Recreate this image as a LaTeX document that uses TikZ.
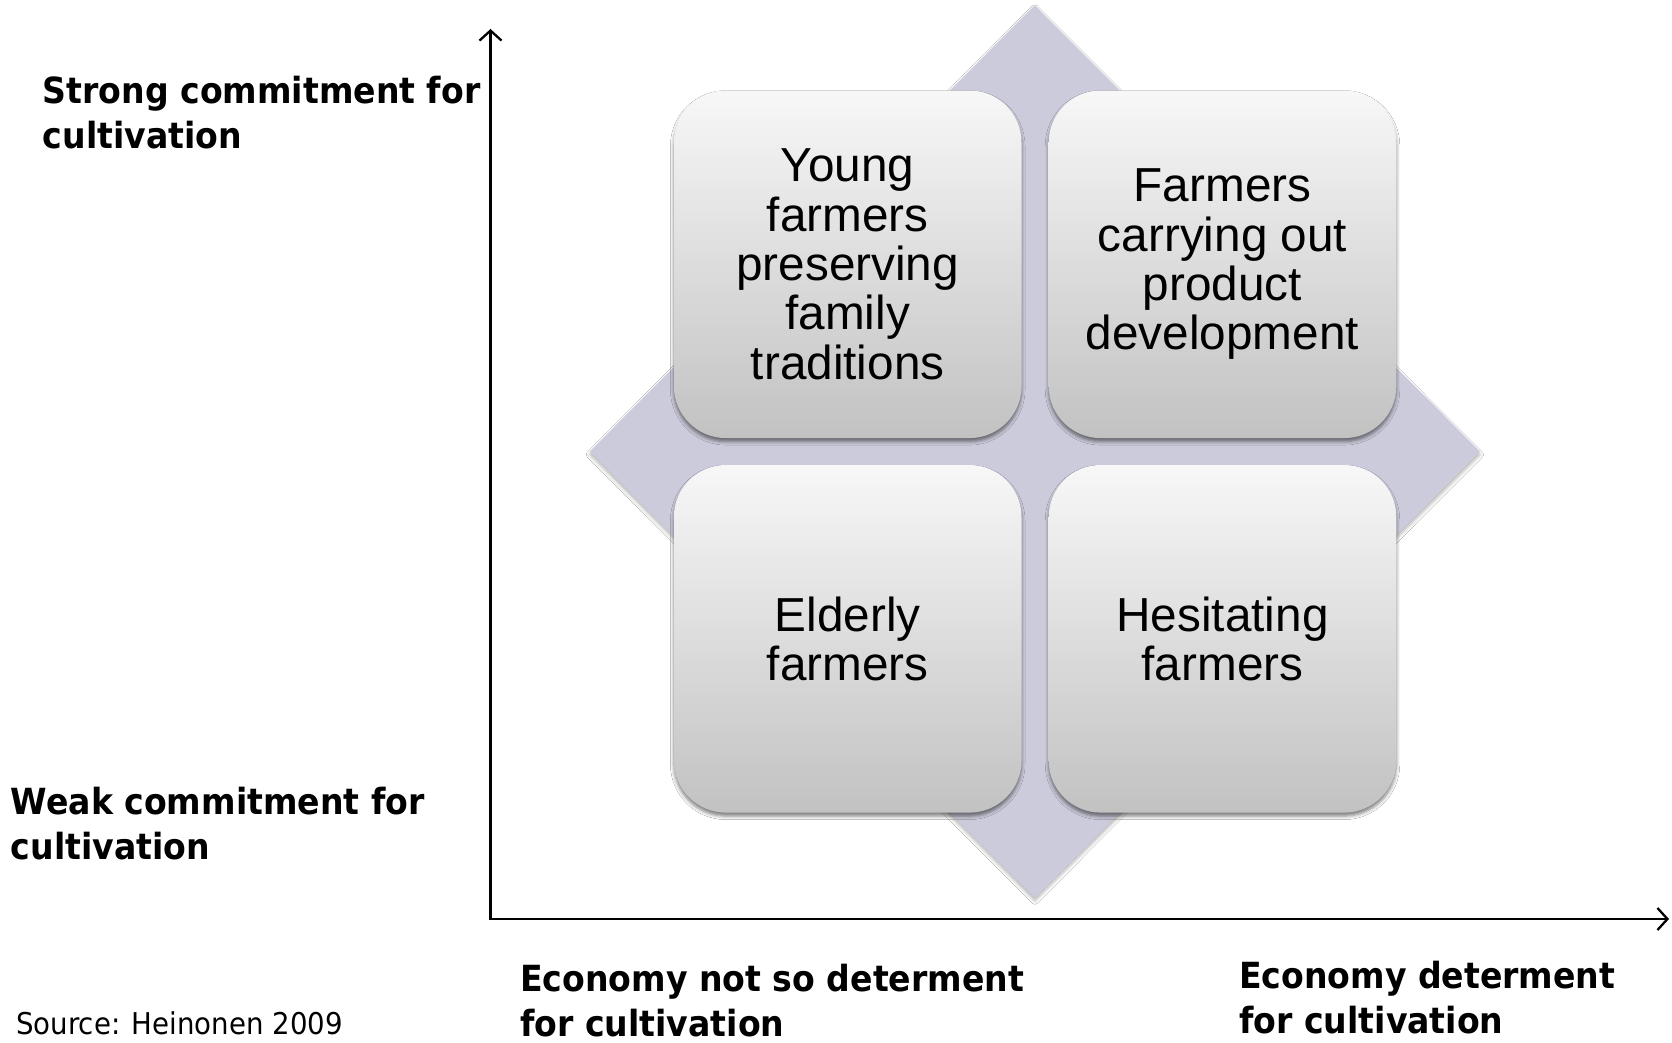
\documentclass[tikz,border=0pt]{standalone}
\usepackage{fontspec}
\setmainfont{Liberation Sans}
\newfontfamily\tahomab[FakeStretch=0.92]{DejaVu Sans}
\usetikzlibrary{arrows.meta,shadows.blur}
\definecolor{diam}{RGB}{203,203,219}
\begin{document}
\begin{tikzpicture}[x=1pt,y=-1pt,
  quad/.style={rounded corners=52pt, minimum width=347.6pt, minimum height=347.6pt,
    inner sep=0pt, top color=white!97!black, bottom color=black!24, draw=none,
    align=center, font=\fontsize{47.7}{49.4}\selectfont,
    blur shadow={shadow xshift=0pt, shadow yshift=-3.5pt, shadow blur radius=3.5pt, shadow opacity=50}},
  axislbl/.style={anchor=base west, inner sep=0pt, align=left,
    font=\tahomab\bfseries\fontsize{36}{45}\selectfont},
  axisline/.style={line width=2.3pt, {Straight Barb[length=10pt,width=22pt,line width=2.3pt]}-{Straight Barb[length=10pt,width=22pt,line width=2.3pt]}}
]
\useasboundingbox (0,0) rectangle (1672,1042);
\fill[white] (0,0) rectangle (1672,1042);

% diamond
\fill[diam, blur shadow={shadow xshift=0pt, shadow yshift=-3pt, shadow blur radius=3.5pt, shadow opacity=30}]
  (1034.8,5.3) -- (1480,451.6) -- (1034.8,897.8) -- (589.7,451.6) -- cycle;

% quadrants
\node[quad] (yf) at (847.7,264.3) {Young\\farmers\\preserving\\family\\traditions};
\node[quad] (fp) at (1222.5,264.3) {Farmers\\carrying out\\product\\development};
\node[quad] (ef) at (847.7,638.8) {Elderly\\farmers};
\node[quad] (hf) at (1222.5,638.8) {Hesitating\\farmers};

% axes
\coordinate (ytop) at (490.5,29);
\coordinate (origin) at (490.5,919);
\coordinate (xend) at (1669,919);
\draw[axisline] (ytop) -- (origin) -- (xend);

% labels (anchor = baseline of last line)
\node[axislbl] (strong) at (42.7,148) {Strong commitment for\\cultivation};
\node[axislbl] (weak) at (10.7,859.4) {Weak commitment for\\cultivation};
\node[axislbl] (econ1) at (520,1036.5) {Economy not so determent\\for cultivation};
\node[axislbl] (econ2) at (1239,1033) {Economy determent\\for cultivation};
\node[anchor=base west, inner sep=0pt, font=\tahomab\fontsize{30}{36}\selectfont] (src) at (16,1034) {Source: Heinonen 2009};
\end{tikzpicture}
\end{document}
